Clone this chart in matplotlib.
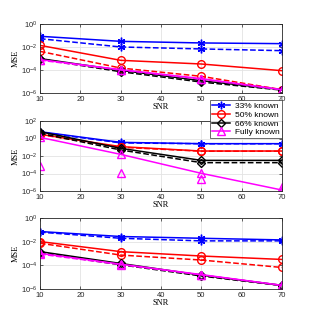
import numpy as np
import matplotlib
matplotlib.use('Agg')
import matplotlib.pyplot as plt

snr = [10, 30, 50, 70]
labels = ['33% known', '50% known', '66% known', 'Fully known']

# exponents (log10 of MSE): (solid, dashed) per series
top_blue = ([-1.07, -1.51, -1.65, -1.71], [-1.28, -2.0, -2.17, -2.32])
top_red = ([-1.86, -3.16, -3.48, -4.06], [-2.38, -3.83, -4.55, -5.71])
top_black = ([-3.01, -4.03, -4.93, -5.71], [-3.05, -4.15, -5.05, -5.75])
top_mag = ([-3.1, -3.97, -4.75, -5.71], [-3.15, -4.0, -4.8, -5.72])

mid_blue = ([0.78, -0.44, -0.59, -0.59], [0.72, -0.5, -0.6, -0.6])
mid_red = ([0.48, -0.93, -1.43, -1.43], [0.45, -1.0, -1.45, -1.45])
mid_black = ([0.78, -1.12, -2.5, -2.5], [0.6, -1.31, -2.76, -2.76])
mid_mag = ([0.13, -1.81, -3.98, -5.89], [-3.1, -3.98, -4.63, -5.58])

bot_blue = ([-1.14, -1.56, -1.71, -1.85], [-1.19, -1.71, -1.93, -1.93])
bot_red = ([-1.99, -2.84, -3.21, -3.5], [-2.13, -3.13, -3.55, -4.18])
bot_black = ([-2.84, -3.84, -4.83, -5.69], [-2.95, -3.95, -4.9, -5.72])
bot_mag = ([-2.99, -3.9, -4.78, -5.69], [-3.05, -3.93, -4.8, -5.7])

# matlab-ish asterisk instead of a filled star
styles = [('#0000ff', (6, 2, 0)), ('#ff0000', 'o'), ('#000000', 'D'), ('#ff00ff', '^')]

fig = plt.figure(figsize=(3.11, 3.24), dpi=100)
plt.rcParams['font.family'] = 'Liberation Sans'

panels = [
    ([0.1286, 0.713, 0.778, 0.213], (1e-6, 1e0), [1e-6, 1e-4, 1e-2, 1e0],
     [top_blue, top_red, top_black, top_mag], False),
    ([0.1286, 0.4105, 0.778, 0.216], (1e-6, 1e2), [1e-6, 1e-4, 1e-2, 1e0, 1e2],
     [mid_blue, mid_red, mid_black, mid_mag], True),
    ([0.1286, 0.108, 0.778, 0.219], (1e-6, 1e0), [1e-6, 1e-4, 1e-2, 1e0],
     [bot_blue, bot_red, bot_black, bot_mag], False),
]

for rect, ylim, yt, series, mag_dash_markers_only in panels:
    ax = fig.add_axes(rect)
    handles = []
    for i, ((c, m), (solid, dashed)) in enumerate(zip(styles, series)):
        ms = 4 if m == 'D' else 5.5
        h, = ax.plot(snr, 10.0 ** np.array(solid), color=c, marker=m, ms=ms,
                     mfc='none', mew=1.0, lw=1.1)
        ls = '--'
        if mag_dash_markers_only and i == 3:
            ls = 'none'
        ax.plot(snr, 10.0 ** np.array(dashed), color=c, marker=m, ms=ms,
                mfc='none', mew=1.0, lw=1.1, ls=ls)
        handles.append(h)
    ax.set_yscale('log')
    ax.set_ylim(*ylim)
    ax.set_xlim(10, 70)
    ax.set_xticks([10, 20, 30, 40, 50, 60, 70])
    ax.set_yticks(yt)
    ax.minorticks_off()
    ax.grid(True, color='#e3e3e3', lw=0.6)
    ax.set_axisbelow(True)
    ax.tick_params(direction='in', labelsize=5.5, length=2, width=0.5,
                   colors='#262626', pad=2, top=True, right=True)
    for s in ax.spines.values():
        s.set_color('#262626')
        s.set_linewidth(0.6)
    ax.set_xlabel('SNR', family='Liberation Serif', fontsize=6, labelpad=0.5)
    ax.set_ylabel('MSE', family='Liberation Serif', fontsize=6, labelpad=0.5)
    if rect[1] == 0.4105:
        leg = ax.legend(handles, labels, loc='upper right',
                        bbox_to_anchor=(0.9068, 0.69),
                        bbox_transform=fig.transFigure, fontsize=6,
                        frameon=True, fancybox=False, borderpad=0.25,
                        labelspacing=0.1, handlelength=2.2, handletextpad=0.6,
                        borderaxespad=0)
        leg.get_frame().set_edgecolor('#262626')
        leg.get_frame().set_linewidth(0.6)

fig.savefig('out.png', dpi=100)
